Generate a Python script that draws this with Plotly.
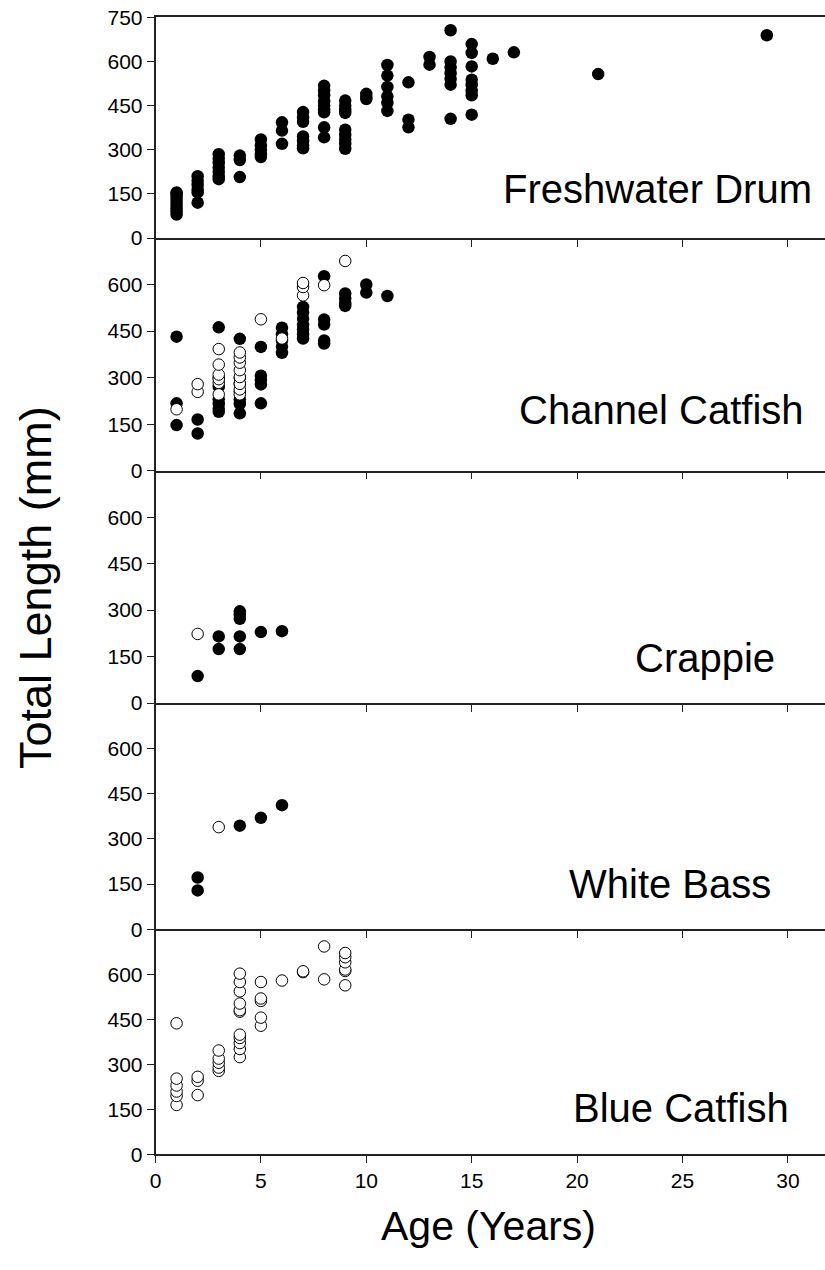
import plotly.graph_objects as go

# ---------------- data ----------------
species = ["Freshwater Drum", "Channel Catfish", "Crappie", "White Bass", "Blue Catfish"]

fd_filled_age = [1]*9 + [2]*6 + [3]*7 + [4]*3 + [5]*5 + [6]*3 + [7]*7 + [8]*9 + [9]*9 + [10]*3 + [11]*6 + [12]*3 + [13]*2 + [14]*7 + [15]*8 + [16, 17, 21, 29]
fd_filled_len = [80, 90, 100, 110, 120, 130, 140, 150, 155,
                 120, 155, 165, 180, 195, 210,
                 200, 210, 225, 240, 255, 270, 285,
                 207, 265, 280,
                 275, 285, 300, 315, 335,
                 320, 365, 393,
                 305, 315, 330, 345, 395, 410, 428,
                 342, 376, 427, 435, 450, 465, 485, 500, 517,
                 303, 320, 335, 350, 368, 425, 435, 450, 467,
                 472, 480, 490,
                 432, 459, 481, 513, 552, 588,
                 376, 402, 529,
                 589, 615,
                 405, 521, 540, 560, 580, 600, 706,
                 419, 485, 500, 520, 538, 583, 629, 659,
                 609, 631, 557, 689]
fd_open_age = []
fd_open_len = []

cc_filled_age = [1]*3 + [2]*2 + [3]*7 + [4]*7 + [5]*5 + [6]*5 + [7]*7 + [8]*5 + [9]*4 + [10]*2 + [11]
cc_filled_len = [147, 217, 432,
                 120, 165,
                 190, 200, 215, 230, 270, 300, 462,
                 185, 215, 230, 255, 280, 300, 425,
                 217, 278, 292, 306, 399,
                 380, 400, 420, 440, 461,
                 426, 440, 455, 470, 490, 510, 528,
                 410, 420, 471, 487, 627,
                 531, 540, 555, 571,
                 574, 600,
                 563]
cc_open_age = [1] + [2]*2 + [3]*6 + [4]*8 + [5, 6] + [7]*3 + [8, 9]
cc_open_len = [198,
               254, 279,
               246, 283, 295, 310, 342, 392,
               246, 262, 280, 302, 324, 348, 365, 381,
               488, 426,
               565, 592, 605,
               598, 676]

cr_filled_age = [2, 3, 3, 4, 4, 4, 4, 4, 5, 6]
cr_filled_len = [87, 174, 215, 174, 215, 272, 284, 296, 229, 232]
cr_open_age = [2]
cr_open_len = [223]

wb_filled_age = [2, 2, 4, 5, 6]
wb_filled_len = [129, 172, 344, 370, 412]
wb_open_age = [3]
wb_open_len = [339]

bc_filled_age = []
bc_filled_len = []
bc_open_age = [1]*6 + [2]*3 + [3]*5 + [4]*11 + [5]*5 + [6] + [7]*2 + [8]*2 + [9]*6
bc_open_len = [165, 195, 210, 230, 253, 438,
               198, 246, 259,
               279, 290, 306, 320, 347,
               325, 352, 372, 389, 400, 477, 482, 504, 545, 576, 604,
               430, 457, 513, 521, 576,
               581,
               609, 612,
               585, 695,
               565, 613, 618, 642, 659, 673]

x_ticks = [0, 5, 10, 15, 20, 25, 30]
y_ticks_top = [0, 150, 300, 450, 600, 750]
y_ticks = [0, 150, 300, 450, 600]

# ---------------- layout geometry ----------------
W, H = 825, 1270
# panel pixel extents (top, bottom)
panels_px = [(17.3, 238.0), (238.0, 470.7), (470.7, 703.0), (703.3, 929.3), (930.0, 1154.3)]
label_px = [(657, 189), (661, 410), (705, 658), (670, 884), (681, 1108)]
x_left = 155.5
x_max = (W - x_left) / 21.08

FONT = "Arial, Liberation Sans, sans-serif"
LINE = "#222222"

filled = [(fd_filled_age, fd_filled_len), (cc_filled_age, cc_filled_len), (cr_filled_age, cr_filled_len),
          (wb_filled_age, wb_filled_len), (bc_filled_age, bc_filled_len)]
opened = [(fd_open_age, fd_open_len), (cc_open_age, cc_open_len), (cr_open_age, cr_open_len),
          (wb_open_age, wb_open_len), (bc_open_age, bc_open_len)]

fig = go.Figure()
layout = dict(
    width=W, height=H,
    margin=dict(l=0, r=0, t=0, b=0, autoexpand=False),
    paper_bgcolor="white", plot_bgcolor="white",
    showlegend=False,
    font=dict(family=FONT, color="black"),
    annotations=[],
)

for i in range(5):
    n = "" if i == 0 else str(i + 1)
    top, bot = panels_px[i]
    fig.add_trace(go.Scatter(x=filled[i][0], y=filled[i][1], mode="markers",
                             xaxis="x" + n, yaxis="y" + n,
                             marker=dict(size=12.5, color="black", line=dict(width=0)),
                             hoverinfo="skip"))
    fig.add_trace(go.Scatter(x=opened[i][0], y=opened[i][1], mode="markers",
                             xaxis="x" + n, yaxis="y" + n,
                             marker=dict(size=11.5, color="white", line=dict(width=1, color="black")),
                             hoverinfo="skip"))
    layout["xaxis" + n] = dict(
        domain=[x_left / W, 1.0], range=[0, x_max], anchor="y" + n,
        tickvals=x_ticks, showticklabels=(i == 4), automargin=False,
        ticks="outside", ticklen=7, tickwidth=1, tickcolor=LINE,
        showline=True, linecolor=LINE, linewidth=1.5,
        mirror=(i == 0), showgrid=False, zeroline=False,
        tickfont=dict(size=21, family=FONT, color="black"),
    )
    layout["yaxis" + n] = dict(
        domain=[1 - bot / H, 1 - top / H], range=[0, 750], anchor="x" + n,
        tickvals=(y_ticks_top if i == 0 else y_ticks), automargin=False,
        ticks="outside", ticklen=7, tickwidth=1, tickcolor=LINE,
        showline=True, linecolor=LINE, linewidth=1.5,
        showgrid=False, zeroline=False,
        tickfont=dict(size=21, family=FONT, color="black"),
    )
    lx, ly = label_px[i]
    layout["annotations"].append(dict(
        text=species[i], x=lx / W, y=1 - ly / H, xref="paper", yref="paper",
        xanchor="center", yanchor="middle", showarrow=False,
        font=dict(size=40, family=FONT, color="black"),
    ))

layout["annotations"].append(dict(
    text="Total Length (mm)", x=35 / W, y=1 - 588 / H, xref="paper", yref="paper",
    xanchor="center", yanchor="middle", showarrow=False, textangle=-90,
    font=dict(size=45, family=FONT, color="black"),
))
layout["annotations"].append(dict(
    text="Age (Years)", x=(x_left + 15.8 * 21.08) / W, y=1 - 1226 / H, xref="paper", yref="paper",
    xanchor="center", yanchor="middle", showarrow=False,
    font=dict(size=41, family=FONT, color="black"),
))

fig.update_layout(**layout)
fig.write_html("out.html")
